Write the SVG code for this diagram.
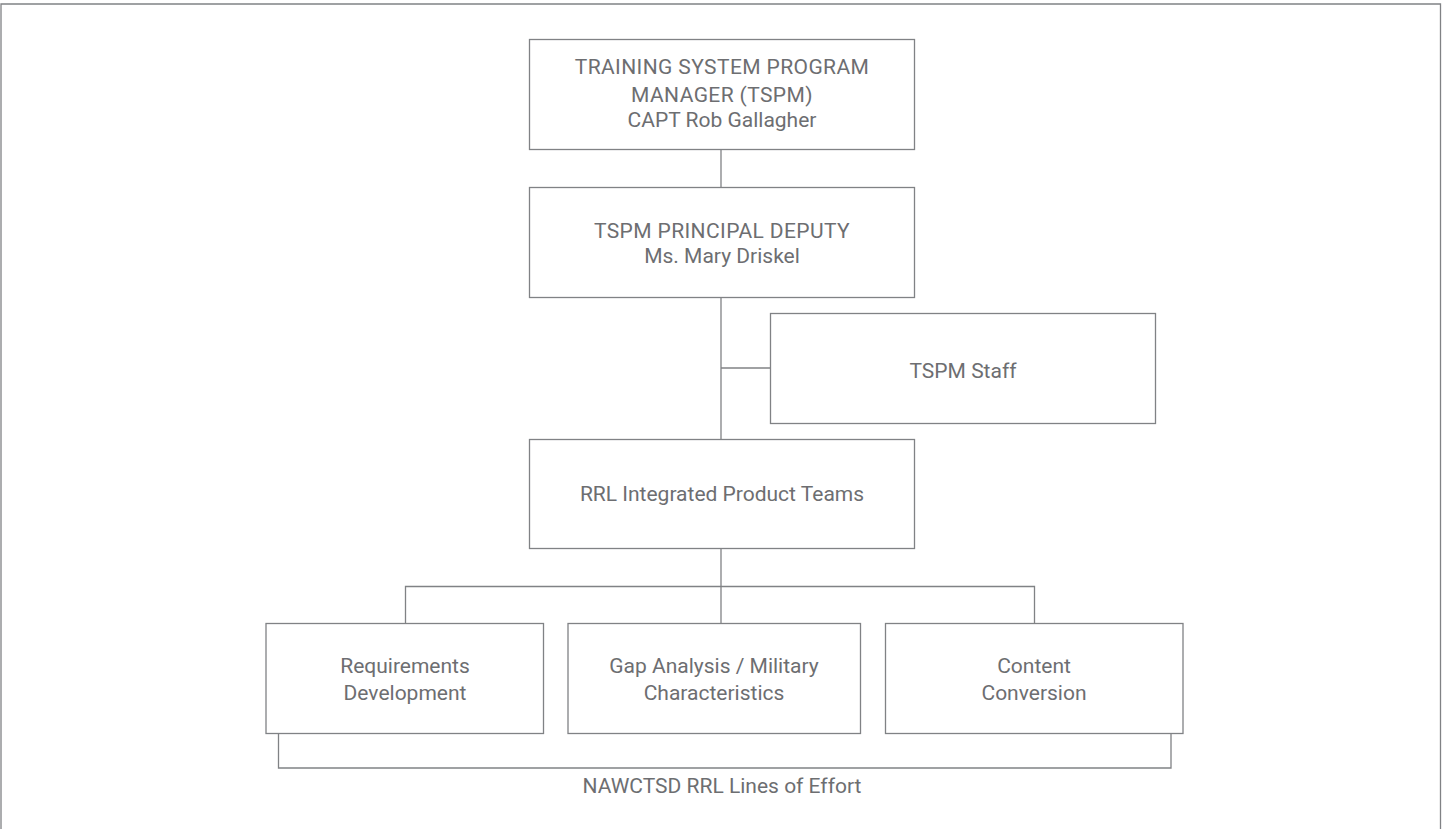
<svg xmlns="http://www.w3.org/2000/svg" width="1442" height="829" viewBox="0 0 1442 829">
<style>
.box{fill:#fff;stroke:#808285;stroke-width:1.3}
.ln{fill:none;stroke:#808285;stroke-width:1.3}
text{font-family:Roboto,"Liberation Sans",sans-serif;font-size:21px;fill:#6d6e71;text-anchor:middle}
.cap{letter-spacing:0.4px}
</style>
<rect x="0" y="0" width="1442" height="829" fill="#fff"/>
<path class="ln" d="M1,840 V4 H1440.5 V840"/>
<g id="connectors">
<path class="ln" d="M721,149.5 V187.5"/>
<path class="ln" d="M721,297.5 V439.5"/>
<path class="ln" d="M721,368 H770.5"/>
<path class="ln" d="M721,548.5 V586.5"/>
<path class="ln" d="M405.5,623.5 V586.5 H1034.5 V623.5"/>
<path class="ln" d="M721,586.5 V623.5"/>
<path class="ln" d="M278.5,733.5 V768 H1171 V733.5"/>
</g>
<g id="tspm">
<rect class="box" x="529.5" y="39.5" width="385" height="110"/>
<text class="cap" x="722" y="74">TRAINING SYSTEM PROGRAM</text>
<text class="cap" x="722" y="102">MANAGER (TSPM)</text>
<text x="722" y="127">CAPT Rob Gallagher</text>
</g>
<g id="deputy">
<rect class="box" x="529.5" y="187.5" width="385" height="110"/>
<text class="cap" x="722" y="238">TSPM PRINCIPAL DEPUTY</text>
<text x="722" y="263">Ms. Mary Driskel</text>
</g>
<g id="staff">
<rect class="box" x="770.5" y="313.5" width="385" height="110"/>
<text x="963" y="378">TSPM Staff</text>
</g>
<g id="ipt">
<rect class="box" x="529.5" y="439.5" width="385" height="109"/>
<text x="722" y="501">RRL Integrated Product Teams</text>
</g>
<g id="req">
<rect class="box" x="266" y="623.5" width="277.5" height="110"/>
<text x="405" y="673">Requirements</text>
<text x="405" y="700">Development</text>
</g>
<g id="gap">
<rect class="box" x="568" y="623.5" width="292.5" height="110"/>
<text x="714" y="673">Gap Analysis / Military</text>
<text x="714" y="700">Characteristics</text>
</g>
<g id="content">
<rect class="box" x="885.5" y="623.5" width="297.5" height="110"/>
<text x="1034" y="673">Content</text>
<text x="1034" y="700">Conversion</text>
</g>
<g id="label">
<text x="722" y="793">NAWCTSD RRL Lines of Effort</text>
</g>
</svg>
